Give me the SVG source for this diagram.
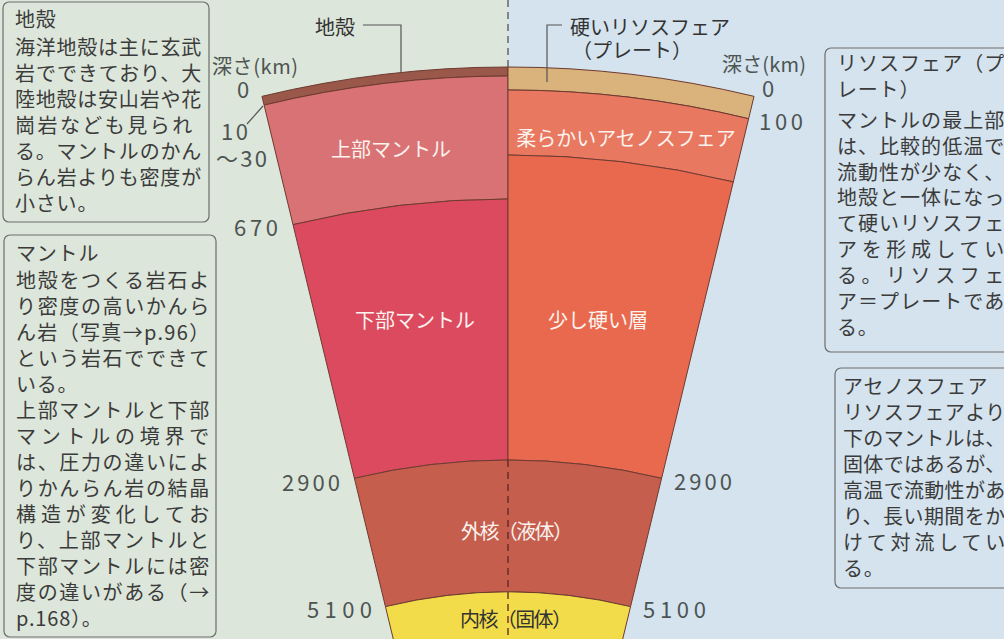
<svg xmlns="http://www.w3.org/2000/svg" width="1004" height="639" viewBox="0 0 1004 639">
<style>
text{font-family:"Noto Sans CJK JP","Noto Sans CJK SC",sans-serif;}
.box{fill:none;stroke:#6d6d6d;stroke-width:1.2}
.bt{font-size:20px;fill:#3b3b3b;letter-spacing:0.8px}
.lbl{font-size:20px;fill:#333}
.dep{font-size:20px;fill:#4d5452}
.num{font-size:22px;fill:#4d5452;letter-spacing:1px}
.in{font-size:20px;fill:#fbf3ee;text-anchor:middle}
.layer{stroke:#6e3a30;stroke-width:1;stroke-linejoin:round}
.lead{fill:none;stroke:#555;stroke-width:1.2}
</style>

<!-- background: left half greenish, right half bluish -->
<rect x="0" y="0" width="508" height="639" fill="#dce6da"/>
<rect x="508" y="0" width="496" height="639" fill="#d4e3ee"/>

<!-- Earth interior sector, centre of curvature at (508,1113) -->
<g id="sector">
  <path id="crust" class="layer" fill="#9a584a" d="M508,67 A1046,1046 0 0 0 261.96,96.35 L264.08,105.10 A1037,1037 0 0 1 508,76 Z"/>
  <path id="upper-mantle" class="layer" fill="#d87274" d="M508,76 A1037,1037 0 0 0 264.08,105.10 L293.01,224.65 A914,914 0 0 1 508,199 Z"/>
  <path id="lower-mantle" class="layer" fill="#dc4a5f" d="M508,199 A914,914 0 0 0 293.01,224.65 L354.40,478.32 A653,653 0 0 1 508,460 Z"/>
  <path id="lithosphere" class="layer" fill="#d9b27c" d="M508,67 A1046,1046 0 0 1 754.04,96.35 L748.63,118.71 A1023,1023 0 0 0 508,90 Z"/>
  <path id="asthenosphere" class="layer" fill="#e97860" d="M508,90 A1023,1023 0 0 1 748.63,118.71 L733.34,181.88 A958,958 0 0 0 508,155 Z"/>
  <path id="mesosphere" class="layer" fill="#e9694f" d="M508,155 A958,958 0 0 1 733.34,181.88 L661.60,478.32 A653,653 0 0 0 508,460 Z"/>
  <path id="outer-core" class="layer" fill="#c65e4e" d="M354.40,478.32 A653,653 0 0 1 661.60,478.32 L630.55,606.62 A521,521 0 0 0 385.45,606.62 Z"/>
  <path id="inner-core" class="layer" fill="#f2dc4a" d="M385.45,606.62 A521,521 0 0 1 630.55,606.62 L508,1113 Z"/>
</g>

<!-- centre divider -->
<g id="divider">
  <line x1="508" y1="0" x2="508" y2="67" stroke="#555" stroke-width="1.3" stroke-dasharray="7 5"/>
  <line x1="508" y1="460" x2="508" y2="639" stroke="#5a2424" stroke-width="1.3" stroke-dasharray="7 5"/>
</g>

<!-- leader lines -->
<g id="connectors">
  <path class="lead" d="M363,25 H401 V72"/>
  <path class="lead" d="M562,25 H547 V82"/>
  <path class="lead" d="M247,124 L263,106" stroke-width="1"/>
</g>

<!-- layer names -->
<g id="layer-labels">
  <text class="in" x="391" y="157">上部マントル</text>
  <text class="in" x="626" y="146">柔らかいアセノスフェア</text>
  <text class="in" x="415" y="328">下部マントル</text>
  <text class="in" x="598" y="328">少し硬い層</text>
  <text class="in" x="517" y="539" textLength="112">外核（液体）</text>
  <text class="lbl" x="460" y="627" textLength="112">内核（固体）</text>
  <text class="lbl" x="315" y="35">地殻</text>
  <text class="lbl" x="570" y="35">硬いリソスフェア</text>
  <text class="lbl" x="572" y="58">（プレート）</text>
</g>

<!-- depth scales -->
<g id="depth-left">
  <text class="dep" x="212" y="74" textLength="86">深さ(km)</text>
  <text class="num" x="237" y="98">0</text>
  <text class="num" x="221" y="140" textLength="28">10</text>
  <text class="num" x="216" y="167" textLength="52">〜30</text>
  <text class="num" x="234" y="236" textLength="45">670</text>
  <text class="num" x="282" y="491" textLength="59">2900</text>
  <text class="num" x="307" y="618" textLength="66">5100</text>
</g>
<g id="depth-right">
  <text class="dep" x="722" y="72" textLength="84">深さ(km)</text>
  <text class="num" x="762" y="97">0</text>
  <text class="num" x="759" y="130" textLength="45">100</text>
  <text class="num" x="674" y="490" textLength="59">2900</text>
  <text class="num" x="643" y="618" textLength="64">5100</text>
</g>

<!-- note: crust -->
<g id="note-crust">
  <rect class="box" x="3" y="2" width="206" height="220" rx="6"/>
  <text class="bt" x="15" y="27">地殻</text>
  <text class="bt" x="15" y="55" textLength="187">海洋地殻は主に玄武</text>
  <text class="bt" x="15" y="81" textLength="187">岩でできており、大</text>
  <text class="bt" x="15" y="107" textLength="187">陸地殻は安山岩や花</text>
  <text class="bt" x="15" y="133" textLength="178">崗岩なども見られ</text>
  <text class="bt" x="15" y="159" textLength="187">る。マントルのかん</text>
  <text class="bt" x="15" y="185" textLength="187">らん岩よりも密度が</text>
  <text class="bt" x="15" y="211">小さい。</text>
</g>

<!-- note: mantle -->
<g id="note-mantle">
  <rect class="box" x="4" y="235" width="212" height="402" rx="6"/>
  <text class="bt" x="16" y="261">マントル</text>
  <text class="bt" x="16" y="288" textLength="194">地殻をつくる岩石よ</text>
  <text class="bt" x="16" y="314" textLength="194">り密度の高いかんら</text>
  <text class="bt" x="16" y="340" textLength="194">ん岩（写真→p.96）</text>
  <text class="bt" x="16" y="366" textLength="194">という岩石でできて</text>
  <text class="bt" x="16" y="392">いる。</text>
  <text class="bt" x="16" y="418" textLength="194">上部マントルと下部</text>
  <text class="bt" x="16" y="444" textLength="194">マントルの境界で</text>
  <text class="bt" x="16" y="470" textLength="194">は、圧力の違いによ</text>
  <text class="bt" x="16" y="496" textLength="194">りかんらん岩の結晶</text>
  <text class="bt" x="16" y="522" textLength="194">構造が変化してお</text>
  <text class="bt" x="16" y="548" textLength="194">り、上部マントルと</text>
  <text class="bt" x="16" y="574" textLength="194">下部マントルには密</text>
  <text class="bt" x="16" y="600" textLength="194">度の違いがある（→</text>
  <text class="bt" x="16" y="626">p.168）。</text>
</g>

<!-- note: lithosphere -->
<g id="note-lithosphere">
  <rect class="box" x="825" y="48" width="200" height="304" rx="6"/>
  <text class="bt" x="837" y="71" textLength="168">リソスフェア（プ</text>
  <text class="bt" x="837" y="97">レート）</text>
  <text class="bt" x="837" y="128" textLength="168">マントルの最上部</text>
  <text class="bt" x="837" y="154" textLength="168">は、比較的低温で</text>
  <text class="bt" x="837" y="180" textLength="168">流動性が少なく、</text>
  <text class="bt" x="837" y="205" textLength="168">地殻と一体になっ</text>
  <text class="bt" x="837" y="231" textLength="168">て硬いリソスフェ</text>
  <text class="bt" x="837" y="257" textLength="168">アを形成してい</text>
  <text class="bt" x="837" y="283" textLength="168">る。リソスフェ</text>
  <text class="bt" x="837" y="309" textLength="168">ア＝プレートであ</text>
  <text class="bt" x="837" y="335">る。</text>
</g>

<!-- note: asthenosphere -->
<g id="note-asthenosphere">
  <rect class="box" x="835" y="368" width="200" height="220" rx="6"/>
  <text class="bt" x="843" y="394">アセノスフェア</text>
  <text class="bt" x="843" y="420" textLength="163">リソスフェアより</text>
  <text class="bt" x="843" y="446" textLength="163">下のマントルは、</text>
  <text class="bt" x="843" y="472" textLength="163">固体ではあるが、</text>
  <text class="bt" x="843" y="498" textLength="163">高温で流動性があ</text>
  <text class="bt" x="843" y="524" textLength="163">り、長い期間をか</text>
  <text class="bt" x="843" y="550" textLength="163">けて対流してい</text>
  <text class="bt" x="843" y="576">る。</text>
</g>
</svg>
